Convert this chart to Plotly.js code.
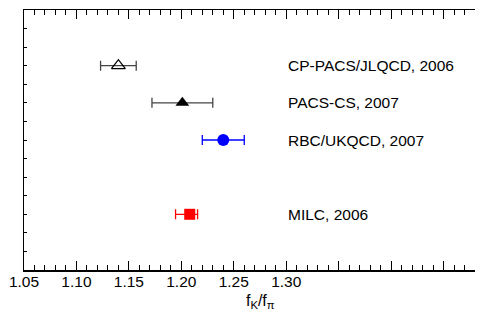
<!DOCTYPE html>
<html>
<head>
<meta charset="utf-8">
<script src="https://cdn.plot.ly/plotly-3.0.1.min.js"></script>
<style>html,body{margin:0;padding:0;background:#fff;}#chart{width:484px;height:311px;}</style>
</head>
<body>
<div id="chart"></div>
<script>
// Data
var collaborations = ["CP-PACS/JLQCD, 2006", "PACS-CS, 2007", "RBC/UKQCD, 2007", "MILC, 2006"];
var fkfpi = [1.140, 1.201, 1.240, 1.208];
var errMinus = [0.017, 0.029, 0.020, 0.0135];
var errPlus = [0.017, 0.029, 0.020, 0.0075];
var rowPos = [11, 9, 7, 3];
var xTickVals = [1.05, 1.10, 1.15, 1.20, 1.25, 1.30, 1.35, 1.40, 1.45];
var xTickText = ["1.05", "1.10", "1.15", "1.20", "1.25", "1.30", "", "", ""];

var styles = [
  {symbol: "triangle-up-open", size: 12, color: "#000", ecolor: "#444"},
  {symbol: "triangle-up", size: 12, color: "#000", ecolor: "#444"},
  {symbol: "circle", size: 12, color: "#0000ff", ecolor: "#0000ff"},
  {symbol: "square", size: 11, color: "#ff0000", ecolor: "#ff0000"}
];

var FONT = "Liberation Sans, Arial, sans-serif";
var traces = [];
var annotations = [];
for (var i = 0; i < collaborations.length; i++) {
  var s = styles[i];
  traces.push({
    type: "scatter", mode: "markers",
    x: [fkfpi[i]], y: [rowPos[i]],
    error_x: {type: "data", symmetric: false, array: [errPlus[i]], arrayminus: [errMinus[i]],
              color: s.ecolor, thickness: 1.3, width: 5},
    marker: {symbol: s.symbol, size: s.size, color: s.color,
             line: {color: s.color, width: s.symbol.indexOf("open") >= 0 ? 1.3 : 0}},
    showlegend: false, hoverinfo: "skip"
  });
  annotations.push({
    x: 1.30, y: rowPos[i], xref: "x", yref: "y", text: collaborations[i],
    showarrow: false, xanchor: "left", yanchor: "middle", yshift: 0,
    font: {family: FONT, size: 15.5, color: "#000"}
  });
}
annotations.push({
  x: 0.525, y: 0, xref: "paper", yref: "paper", yanchor: "top", yshift: -20,
  text: "f<sub>K</sub>/f<sub>π</sub>", showarrow: false,
  font: {family: FONT, size: 16, color: "#000"}
});

var layout = {
  width: 484, height: 311,
  margin: {l: 24, r: 9, t: 10, b: 41, pad: 0},
  paper_bgcolor: "#fff", plot_bgcolor: "#fff",
  font: {family: FONT, size: 15.5, color: "#000"},
  xaxis: {
    range: [1.05, 1.48], showgrid: false, zeroline: false,
    showline: true, linecolor: "#000", linewidth: 1.5, mirror: "ticks",
    ticks: "inside", ticklen: 9, tickwidth: 1, tickcolor: "#000",
    tickmode: "array", tickvals: xTickVals, ticktext: xTickText,
    tickfont: {size: 15.5}, ticklabelstandoff: -3,
    minor: {dtick: 0.01, ticks: "inside", ticklen: 5, tickwidth: 1, tickcolor: "#000", showgrid: false}
  },
  yaxis: {
    range: [0, 14], showgrid: false, zeroline: false,
    showline: true, linecolor: "#000", linewidth: 1.5,
    ticks: "inside", ticklen: 3, tickwidth: 1, tickcolor: "#000",
    dtick: 1, showticklabels: false
  },
  annotations: annotations
};

Plotly.newPlot("chart", traces, layout, {staticPlot: true, displayModeBar: false});
</script>
</body>
</html>
